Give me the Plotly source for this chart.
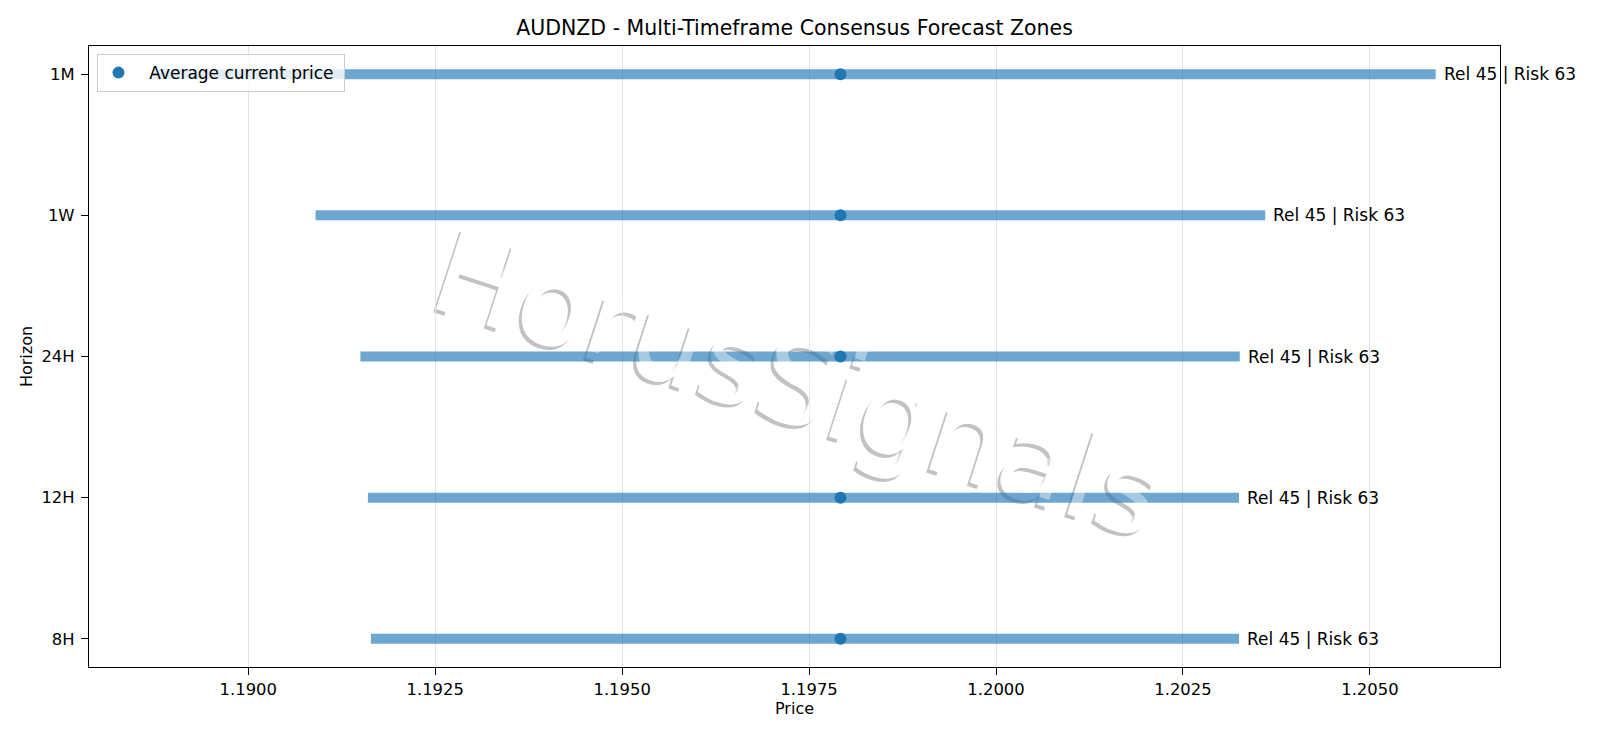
import plotly.graph_objects as go

# forecast zones per horizon
horizons = ['8H', '12H', '24H', '1W', '1M']
zone_low = [1.19164, 1.19160, 1.19150, 1.19090, 1.18873]
zone_high = [1.20325, 1.20325, 1.20326, 1.20360, 1.20588]
avg_price = [1.19792, 1.19792, 1.19792, 1.19792, 1.19792]
rel_score = [45, 45, 45, 45, 45]
risk_score = [63, 63, 63, 63, 63]

FONT = 'DejaVu Sans'
BLUE = '#1f77b4'

# zone lines, one segment per horizon
xs, ys = [], []
for h, lo, hi in zip(horizons, zone_low, zone_high):
    xs += [lo, hi, None]
    ys += [h, h, None]

fig = go.Figure()
fig.add_trace(go.Scatter(x=xs, y=ys, mode='lines',
                         line=dict(color='rgba(31,119,180,0.65)', width=10),
                         showlegend=False, hoverinfo='skip'))
fig.add_trace(go.Scatter(x=avg_price, y=horizons, mode='markers',
                         marker=dict(color=BLUE, size=12),
                         name='\u00a0\u00a0Average current price\u00a0'))

# Rel / Risk text at the right end of each zone
for h, hi, r, k in zip(horizons, zone_high, rel_score, risk_score):
    fig.add_annotation(x=hi, y=h, text=f'Rel {r} | Risk {k}', showarrow=False,
                       xanchor='left', yanchor='middle', xshift=6,
                       font=dict(family=FONT, size=17, color='black'))

# watermark: gray shadow + white text under the data, faint white on top
wm_x, wm_y, wm_size, wm_angle = 0.504, 0.468, 116, 18
for dx, dy, col in [(-0.0021, -0.005, '#c2c2c2'), (0, 0, 'white')]:
    fig.add_shape(type='rect', xref='paper', yref='paper',
                  x0=wm_x - 0.2 + dx, x1=wm_x + 0.2 + dx,
                  y0=wm_y - 0.2 + dy, y1=wm_y + 0.2 + dy,
                  line=dict(width=0), fillcolor='rgba(0,0,0,0)', layer='below',
                  label=dict(text='HorusSignals', textangle=wm_angle,
                             textposition='middle center',
                             font=dict(family=FONT, size=wm_size, color=col)))
fig.add_annotation(x=wm_x, y=wm_y, xref='paper', yref='paper', text='HorusSignals',
                   showarrow=False, textangle=wm_angle, xanchor='center', yanchor='middle',
                   font=dict(family=FONT, size=wm_size, color='rgba(255,255,255,0.4)'))

# page body has an 8px margin, so the figure is 8px smaller and shifted
fig.update_layout(
    width=1592, height=730,
    margin=dict(l=81, r=100, t=38, b=71),
    paper_bgcolor='white', plot_bgcolor='white',
    font=dict(family=FONT, size=16, color='black'),
    title=dict(text='AUDNZD - Multi-Timeframe Consensus Forecast Zones',
               x=0.5, xref='paper', xanchor='center', y=0.9726, yanchor='middle',
               font=dict(family=FONT, size=20.5, color='black')),
    legend=dict(x=0.006, y=0.987, xanchor='left', yanchor='top',
                bgcolor='rgba(255,255,255,0.8)', bordercolor='#cccccc', borderwidth=1,
                font=dict(family=FONT, size=17)),
)
fig.update_xaxes(range=[1.18787, 1.20674], tickvals=[1.19, 1.1925, 1.195, 1.1975, 1.2, 1.2025, 1.205],
                 tickformat='.4f', showgrid=True, gridcolor='#e3e3e3', gridwidth=1,
                 zeroline=False, showline=True, linecolor='black', linewidth=1.3, mirror=True,
                 ticks='outside', ticklen=7, tickcolor='black', tickfont=dict(size=16.4),
                 title=dict(text='Price', standoff=3, font=dict(family=FONT, size=16)))
fig.update_yaxes(type='category', categoryorder='array', categoryarray=horizons,
                 range=[-0.2, 4.2], showgrid=False, zeroline=False,
                 showline=True, linecolor='black', linewidth=1.3, mirror=True,
                 ticks='outside', ticklen=7, tickcolor='black', ticklabelstandoff=3,
                 tickfont=dict(size=16.4),
                 title=dict(text='Horizon', standoff=4, font=dict(family=FONT, size=16)))

fig.write_html('out.html')
